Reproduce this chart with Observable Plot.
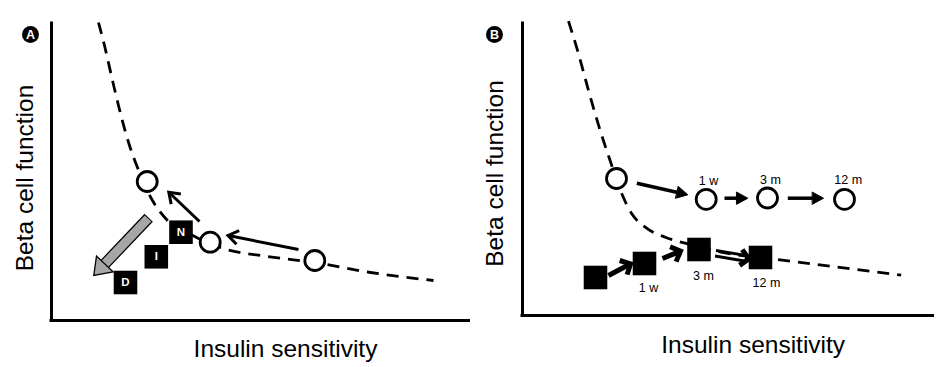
<!DOCTYPE html>
<html>
<head>
<meta charset="utf-8">
<script src="https://cdn.jsdelivr.net/npm/d3@7"></script>
<script src="https://cdn.jsdelivr.net/npm/@observablehq/plot@0.6"></script>
<style>
  html, body { margin: 0; padding: 0; background: #fff; }
  #wrap { display: flex; width: 948px; height: 367px; overflow: hidden; }
  #wrap svg { display: block; font-family: "Liberation Sans", Arial, sans-serif; }
</style>
</head>
<body>
<div id="wrap"></div>
<script>
// ================= Panel A (arbitrary units) =================
const curveA_x = [47, 53, 61, 69, 78, 86, 101, 116, 139, 172, 216, 263, 319, 382];
const curveA_y = [298, 275, 240, 207, 175, 153, 120, 100, 86, 72, 64, 58, 48, 40];
const circlesA_x = [95.7, 158.7, 263.3];
const circlesA_y = [139, 78.3, 60];
const boxesA_label = ["N", "I", "D"];
const boxesA_x = [129.5, 104.8, 74];
const boxesA_y = [88.3, 63.7, 38];
const arrowsA_x1 = [247, 148];
const arrowsA_y1 = [71, 99];
const arrowsA_x2 = [176.5, 117.3];
const arrowsA_y2 = [85, 128.3];
const grayA_x1 = [96.5];
const grayA_y1 = [102];
const grayA_x2 = [42.3];
const grayA_y2 = [45];

// ================= Panel B (arbitrary units) =================
const curveB_x = [46, 56, 66, 77.7, 87, 99.3, 109.3, 122.7, 142.7, 162.7, 200, 249.3, 289.3, 378.7];
const curveB_y = [294.3, 261.7, 225, 185, 156.7, 121.7, 101.7, 88.3, 78.3, 72.3, 63, 56.7, 51.7, 40.3];
const timeLabels = ["1 w", "3 m", "12 m"];
const circlesB_x = [94, 183.7, 245, 322];
const circlesB_y = [137, 116.2, 117.5, 116.2];
const circleLabelsB_x = [186, 248, 325.7];
const circleLabelsB_y = [134.7, 135.5, 135.5];
const arrowsBc_x1 = [114.3, 202, 265.3];
const arrowsBc_y1 = [132.3, 117.3, 117.3];
const arrowsBc_x2 = [165.3, 225.3, 301];
const arrowsBc_y2 = [120.7, 117.3, 117.3];
const squaresB_x = [73, 122, 176.5, 238];
const squaresB_y = [38, 52, 66, 58];
const squareLabelsB_x = [126, 181, 244];
const squareLabelsB_y = [28, 40, 33];
const arrowsBs_x1 = [86, 140, 193];
const arrowsBs_y1 = [40, 57, 62.3];
const arrowsBs_x2 = [108, 158, 226.3];
const arrowsBs_y2 = [51.7, 64.3, 56.7];
const arrowsBs_double = [false, false, true];

// ================= texts =================
const xTitle = "Insulin sensitivity";
const yTitle = "Beta cell function";
const panelTags = ["A", "B"];

// ================= helpers =================
const FONT = "Liberation Sans, Arial, sans-serif";
const pts = (xs, ys, extra = {}) => xs.map((x, i) => ({x, y: ys[i], i, ...Object.fromEntries(Object.entries(extra).map(([k, v]) => [k, v[i]]))}));

function arrowParts(x1s, y1s, x2s, y2s, headLen, headHalf, shaftBack, tailExt = 0) {
  const shafts = [], heads = [];
  x1s.forEach((x1, i) => {
    const y1 = y1s[i], x2 = x2s[i], y2 = y2s[i];
    const dx = x2 - x1, dy = y2 - y1, L = Math.hypot(dx, dy);
    const ux = dx / L, uy = dy / L, px = -uy, py = ux;
    const bx = x2 - ux * headLen, by = y2 - uy * headLen;
    shafts.push({i, x1: x1 - ux * tailExt, y1: y1 - uy * tailExt, x2: x2 - ux * shaftBack, y2: y2 - uy * shaftBack, px, py});
    heads.push({i, x: bx + px * headHalf, y: by + py * headHalf},
               {i, x: x2, y: y2},
               {i, x: bx - px * headHalf, y: by - py * headHalf});
  });
  return {shafts, heads};
}

function panel({ml, mr, mb, xmax, ymax, marks}) {
  return Plot.plot({
    width: 474, height: 367,
    marginLeft: ml, marginRight: mr, marginTop: 22, marginBottom: mb,
    x: {domain: [0, xmax], axis: null},
    y: {domain: [0, ymax], axis: null},
    style: {fontFamily: FONT, background: "white", overflow: "visible", color: "black"},
    marks
  });
}

function frame(xmax, ymax, tag, tagX, tagY, ylx, yly, xlx, xly) {
  return [
    Plot.ruleX([0], {y1: 0, y2: ymax + 0.5, stroke: "black", strokeWidth: 3}),
    Plot.ruleY([0], {x1: -1.5, x2: xmax, stroke: "black", strokeWidth: 3}),
    Plot.dot([{x: tagX, y: tagY}], {x: "x", y: "y", r: 8.5, fill: "black", stroke: "none"}),
    Plot.text([{x: tagX, y: tagY, t: tag}], {x: "x", y: "y", text: "t", fill: "white", fontWeight: "bold", fontSize: 12.5, fontFamily: FONT}),
    Plot.text([{x: ylx, y: yly, t: yTitle}], {x: "x", y: "y", text: "t", rotate: -90, fontSize: 24.5, fill: "black", fontFamily: FONT}),
    Plot.text([{x: xlx, y: xly, t: xTitle}], {x: "x", y: "y", text: "t", fontSize: 24.5, fill: "black", fontFamily: FONT})
  ];
}

// ================= Panel A =================
const grayA = arrowParts(grayA_x1, grayA_y1, grayA_x2, grayA_y2, 16, 11.5, 15);
const grayOutline = arrowParts(grayA_x1, grayA_y1, grayA_x2, grayA_y2, 16, 11.5, 15, 1);
const blackA = arrowParts(arrowsA_x1, arrowsA_y1, arrowsA_x2, arrowsA_y2, 10, 7, 1.5);

const plotA = panel({
  ml: 51, mr: 4, mb: 47, xmax: 419, ymax: 298,
  marks: [
    ...frame(419, 298, panelTags[0], -21, 286, -26.5, 142.5, 234, -29),
    Plot.line(pts(curveA_x, curveA_y), {x: "x", y: "y", curve: "monotone-x", stroke: "black", strokeWidth: 2.8, strokeDasharray: "12,8", strokeLinecap: "butt"}),
    // grey progression arrow
    Plot.link(grayOutline.shafts, {x1: "x1", y1: "y1", x2: "x2", y2: "y2", stroke: "black", strokeWidth: 11.5, strokeLinecap: "butt"}),
    Plot.link(grayA.shafts, {x1: "x1", y1: "y1", x2: "x2", y2: "y2", stroke: "#a6a6a6", strokeWidth: 9, strokeLinecap: "butt"}),
    Plot.line(grayA.heads, {x: "x", y: "y", z: "i", curve: "linear-closed", fill: "#a6a6a6", stroke: "black", strokeWidth: 1.3, strokeLinejoin: "miter", strokeMiterlimit: 10}),
    // black open arrows
    Plot.link(blackA.shafts, {x1: "x1", y1: "y1", x2: "x2", y2: "y2", stroke: "black", strokeWidth: 3, strokeLinecap: "butt"}),
    Plot.line(blackA.heads, {x: "x", y: "y", z: "i", stroke: "black", strokeWidth: 3, strokeLinejoin: "miter", strokeMiterlimit: 10, strokeLinecap: "butt"}),
    // circles
    Plot.dot(pts(circlesA_x, circlesA_y), {x: "x", y: "y", r: 10, fill: "white", stroke: "black", strokeWidth: 2.8}),
    // labelled boxes
    Plot.dot(pts(boxesA_x, boxesA_y), {x: "x", y: "y", symbol: "square", r: 13.3, fill: "black", stroke: "none"}),
    Plot.text(pts(boxesA_x, boxesA_y, {t: boxesA_label}), {x: "x", y: "y", text: "t", fill: "white", fontWeight: "bold", fontSize: 11.5, fontFamily: FONT})
  ]
});

// ================= Panel B =================
const arrC = arrowParts(arrowsBc_x1, arrowsBc_y1, arrowsBc_x2, arrowsBc_y2, 11, 6, 9);
const arrS = arrowParts(arrowsBs_x1, arrowsBs_y1, arrowsBs_x2, arrowsBs_y2, 8, 8, 2.5);
const sShafts = [];
arrS.shafts.forEach((s, k) => {
  if (arrowsBs_double[k]) {
    for (const o of [-2.8, 2.8]) sShafts.push({x1: s.x1 + s.px * o, y1: s.y1 + s.py * o, x2: s.x2 + s.px * o, y2: s.y2 + s.py * o, w: 3});
  } else sShafts.push({...s, w: 5});
});

const plotB = panel({
  ml: 48, mr: 14, mb: 52, xmax: 412, ymax: 293,
  marks: [
    ...frame(412, 293, panelTags[1], -28, 281, -27.5, 142, 230.7, -30),
    Plot.line(pts(curveB_x, curveB_y), {x: "x", y: "y", curve: "monotone-x", stroke: "black", strokeWidth: 2.8, strokeDasharray: "12,8", strokeLinecap: "butt"}),
    // circle arrows (filled heads)
    Plot.link(arrC.shafts, {x1: "x1", y1: "y1", x2: "x2", y2: "y2", stroke: "black", strokeWidth: 3.5, strokeLinecap: "butt"}),
    Plot.line(arrC.heads, {x: "x", y: "y", z: "i", curve: "linear-closed", fill: "black", stroke: "black", strokeWidth: 1, strokeLinejoin: "miter", strokeMiterlimit: 10}),
    Plot.dot(pts(circlesB_x, circlesB_y), {x: "x", y: "y", r: 10, fill: "white", stroke: "black", strokeWidth: 2.8}),
    Plot.text(pts(circleLabelsB_x, circleLabelsB_y, {t: timeLabels}), {x: "x", y: "y", text: "t", fontSize: 12.5, fontWeight: "normal", fill: "black", fontFamily: FONT}),
    // squares and chevron arrows
    Plot.link(sShafts, {x1: "x1", y1: "y1", x2: "x2", y2: "y2", stroke: "black", strokeWidth: "w", strokeLinecap: "butt"}),
    Plot.line(arrS.heads, {x: "x", y: "y", z: "i", stroke: "black", strokeWidth: 5, strokeLinejoin: "miter", strokeMiterlimit: 10, strokeLinecap: "butt"}),
    Plot.dot(pts(squaresB_x, squaresB_y), {x: "x", y: "y", symbol: "square", r: 13.3, fill: "black", stroke: "none"}),
    Plot.text(pts(squareLabelsB_x, squareLabelsB_y, {t: timeLabels}), {x: "x", y: "y", text: "t", fontSize: 12.5, fontWeight: "normal", fill: "black", fontFamily: FONT})
  ]
});

const wrap = document.getElementById("wrap");
wrap.appendChild(plotA);
wrap.appendChild(plotB);
</script>
</body>
</html>
